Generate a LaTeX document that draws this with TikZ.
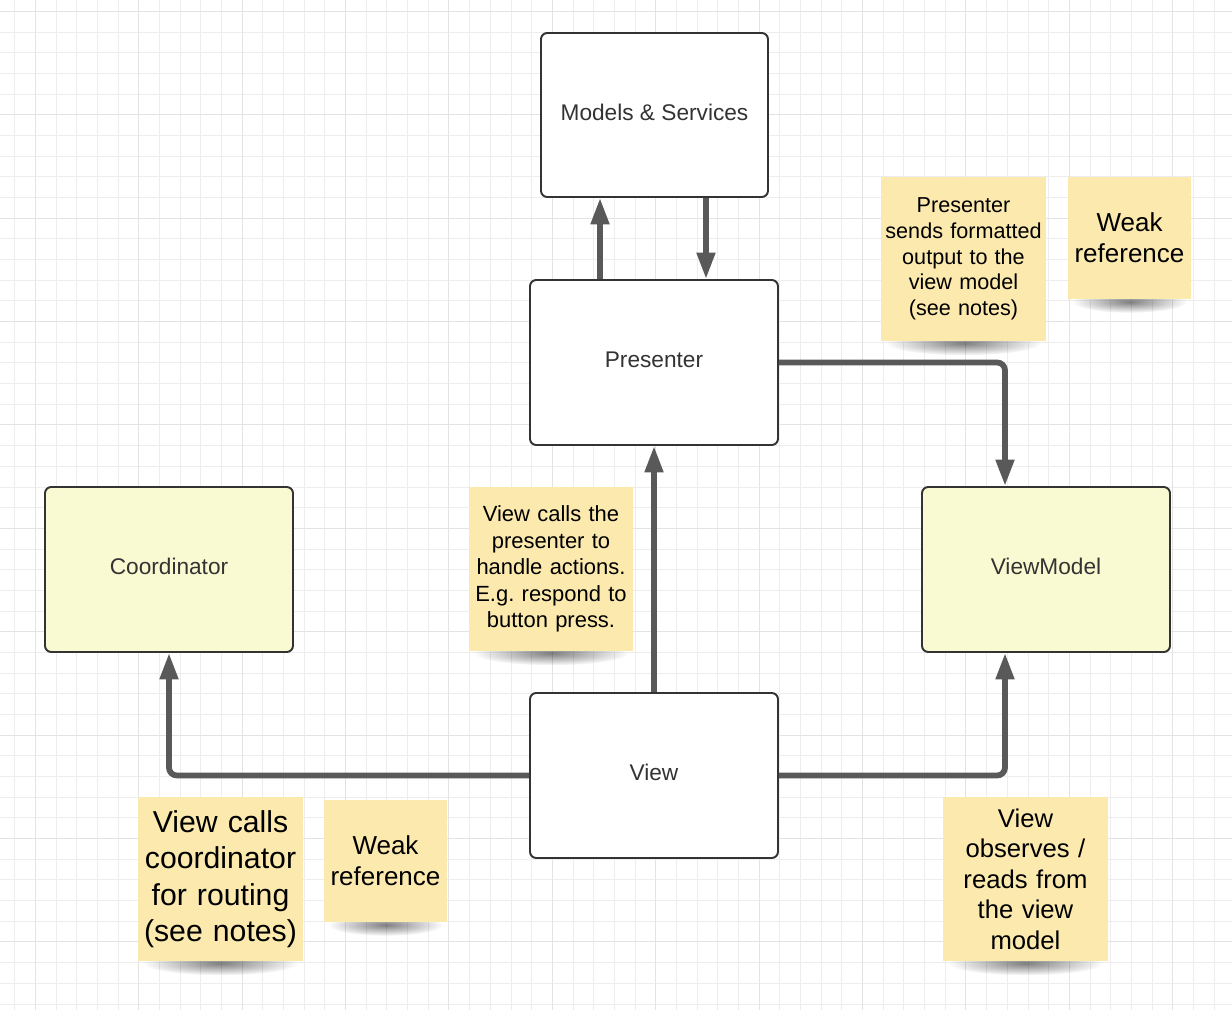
\documentclass[tikz,border=0pt]{standalone}
\usepackage{fontspec}
\setmainfont{Liberation Sans}
\frenchspacing
\usetikzlibrary{arrows.meta,fadings,backgrounds}
\definecolor{notefill}{HTML}{FBE9AE}
\definecolor{boxyellow}{HTML}{FAFAD2}
\definecolor{linkgray}{HTML}{595959}
\definecolor{boxtext}{HTML}{333333}
\tikzfading[name=softshadow,inner color=transparent!0,outer color=transparent!100]
\begin{document}
\begin{tikzpicture}[x=0.02cm,y=-0.02cm,
  gridminor/.style={draw=black!7,line width=0.5pt},
  gridmajor/.style={draw=black!11,line width=0.55pt},
  box/.style={draw=black!80,line width=1.1pt,rounded corners=3.5pt,fill=white,text=boxtext,text depth=0.12cm,
    minimum width=4.96cm,minimum height=3.3cm,font=\fontsize{12.9}{15}\selectfont},
  note/.style={fill=notefill,align=center,inner sep=0pt,text width=3.2cm,
    minimum width=3.3cm,minimum height=3.28cm},
  smallnote/.style={note,text width=2.4cm,minimum width=2.46cm,minimum height=2.46cm},
  noteshadow/.style={fill=black,opacity=0.5,path fading=softshadow},
  link/.style={draw=linkgray,line width=3.3pt,rounded corners=4.5pt,-{Triangle[length=15pt,width=10pt]}}]

\node[box,minimum width=4.54cm,minimum height=3.28cm] (models) at (654.5,115) {Models \& Services};
\node[box] (pres) at (654,362.5) {Presenter};
\node[box,fill=boxyellow] (coord) at (169,569.5) {Coordinator};
\node[box,fill=boxyellow] (vm) at (1046,569.5) {ViewModel};
\node[box] (view) at (654,775.5) {View};

\node[note,font=\fontsize{12.3}{14.6}\selectfont] (presnote) at (963.5,259) {Presenter\\sends formatted\\output to the\\view model\\(see notes)};
\node[smallnote,font=\fontsize{14.8}{17.6}\selectfont] (weaktop) at (1129.5,238) {Weak\\reference};
\node[note,font=\fontsize{12.5}{15.1}\selectfont] (viewnote) at (551,569) {View calls the\\presenter to\\handle actions.\\E.g. respond to\\button press.};
\node[note,font=\fontsize{17.2}{20.8}\selectfont] (coordnote) at (220.5,879) {View calls\\coordinator\\for routing\\(see notes)};
\node[smallnote,font=\fontsize{14.8}{17.6}\selectfont] (weakbot) at (385.5,861) {Weak\\reference};
\node[note,font=\fontsize{14.6}{17.4}\selectfont] (obsnote) at (1025.5,879) {View\\observes /\\reads from\\the view\\model};

\draw[link] ([xshift=-1.08cm]pres.north) -- ([xshift=-1.08cm]pres.north |- models.south);
\draw[link] ([xshift=1.03cm]models.south) -- ([xshift=1.03cm]models.south |- pres.north);
\draw[link] (pres.east) -| ([xshift=-0.82cm]vm.north);
\draw[link] (view.north) -- (pres.south);
\draw[link] (view.west) -| (coord.south);
\draw[link] (view.east) -| ([xshift=-0.82cm]vm.south);

\begin{scope}[on background layer]
\fill[white] (0,0) rectangle (1232,1010);
\useasboundingbox (0,0) rectangle (1232,1010);
\foreach \k in {0,...,58} \draw[gridminor] (14.62+\k*20.68,0) -- ++(0,1010);
\foreach \k in {0,...,48} \draw[gridminor] (0,11.3+\k*20.68) -- ++(1232,0);
\foreach \k in {0,...,11} \draw[gridmajor] (35.3+\k*103.4,0) -- ++(0,1010);
\foreach \k in {0,...,9} \draw[gridmajor] (0,11.3+\k*103.4) -- ++(1232,0);
\foreach \n in {presnote,viewnote,coordnote,obsnote}
  \fill[noteshadow] ([yshift=-0.04cm]\n.south) ellipse [x radius=1.55cm,y radius=0.24cm];
\foreach \n in {weaktop,weakbot}
  \fill[noteshadow] ([yshift=-0.04cm]\n.south) ellipse [x radius=1.15cm,y radius=0.22cm];
\end{scope}
\end{tikzpicture}
\end{document}
